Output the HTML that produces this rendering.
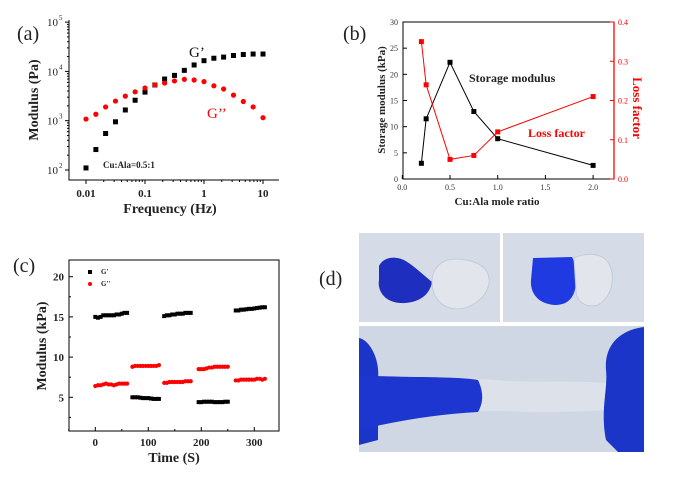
<!DOCTYPE html>
<html><head><meta charset="utf-8"><style>
body{margin:0;background:#fff}
svg{display:block;font-family:"Liberation Serif",serif}
.t{font-weight:bold;fill:#222}
</style></head><body>
<svg id="s" width="673" height="479" viewBox="0 0 673 479">
<g id="pa"></g>
<g id="pb"></g>
<g id="pc"></g>
<g id="pd">
  <rect x="359" y="233" width="141" height="89" fill="#d6dce7"/>
  <path d="M379,266 C383,258 392,257 397,258 C406,259 413,266 432,282 C430,295 418,304 400,303 C385,302 377,291 379,280 Z" fill="#1e2fc0"/>
  <path d="M432,282 C432,268 442,259 455,259 C470,259 491,264 489,283 C487,298 470,310 455,309 C440,307 432,296 432,282 Z" fill="#e2e6ec" stroke="#c5ccd6"/>
  <rect x="503" y="233" width="141" height="89" fill="#d6dce7"/>
  <path d="M533,258 L572,257 C575,262 575,270 576,280 C576,295 570,305 555,305 C538,304 530,293 531,280 Z" fill="#1e3ae0"/>
  <path d="M574,258 C585,253 600,252 608,262 C616,275 613,296 598,305 C587,308 576,303 576,290 Z" fill="#e2e6ec" stroke="#c5ccd6"/>
  <rect x="359" y="326" width="285" height="126" fill="#d0d7e4"/>
  <path d="M359,338 C370,340 380,360 378,378 L378,440 L359,445 Z" fill="#1a35c8"/>
  <path d="M378,378 C420,378 470,377 505,381 C540,382 580,381 610,383 L610,410 C570,412 540,413 505,411 C470,410 420,415 378,420 Z" fill="#dde2ea"/>
  <path d="M359,375 C400,378 455,376 478,380 C485,395 482,405 478,412 C440,414 400,420 359,430 Z" fill="#1e36d0"/>
  <path d="M644,327 C620,330 604,345 606,370 C608,390 600,410 606,440 L618,452 L644,452 Z" fill="#1a35c8"/>
</g>
<text x="319" y="285" font-size="20" fill="#222">(d)</text>
</svg>
<script>
// ---- Panel (a) data
const aFreq=[0.01,0.0147,0.0215,0.0316,0.0464,0.068,0.1,0.147,0.215,0.316,0.464,0.68,1,1.47,2.15,3.16,4.64,6.8,10];
const aGp=[110,260,550,950,1650,2600,3800,5300,7000,8300,10500,13500,16500,18500,19500,21000,22000,22500,22500];
const aGpp=[1080,1350,1900,2500,3150,3850,4600,5300,5800,6400,6900,6700,6200,5100,4400,3300,2450,1900,1150];
const aXTicks=["0.01","0.1","1","10"];
const aYExp=["2","3","4","5"];
// ---- Panel (b) data
const bRatio=[0.2,0.25,0.5,0.75,1.0,2.0];
const bStorage=[3,11.5,22.3,12.9,7.7,2.6];
const bLoss=[0.35,0.24,0.05,0.06,0.12,0.21];
const bXTicks=["0.0","0.5","1.0","1.5","2.0"];
const bYTicks=["0","5","10","15","20","25","30"];
const bRTicks=["0.0","0.1","0.2","0.3","0.4"];
// ---- Panel (c) data
const cTime=[0,5,10,15,20,25,30,35,40,45,50,55,60,
 70,75,80,85,90,95,100,105,110,115,120,
 130,135,140,145,150,155,160,165,170,175,180,
 195,200,205,210,215,220,225,230,235,240,245,250,
 265,270,275,280,285,290,295,300,305,310,315,320];
const cGp=[15.0,14.9,15.0,15.2,15.2,15.2,15.2,15.2,15.3,15.3,15.4,15.5,15.5,
 5.0,5.0,5.0,4.95,4.9,4.9,4.9,4.85,4.8,4.8,4.8,
 15.1,15.2,15.2,15.3,15.3,15.4,15.4,15.4,15.5,15.5,15.5,
 4.4,4.4,4.45,4.45,4.45,4.45,4.4,4.4,4.4,4.4,4.45,4.45,
 15.8,15.8,15.9,15.9,15.95,16.0,16.0,16.05,16.1,16.15,16.2,16.2];
const cGpp=[6.4,6.5,6.5,6.6,6.7,6.6,6.6,6.5,6.6,6.7,6.7,6.7,6.7,
 8.8,8.9,8.9,8.9,8.9,8.9,8.9,8.9,8.9,8.9,9.0,
 6.8,6.8,6.9,6.9,6.9,6.9,6.9,6.9,7.0,7.0,7.0,
 8.5,8.5,8.5,8.6,8.7,8.7,8.8,8.8,8.8,8.8,8.8,8.8,
 7.1,7.1,7.2,7.2,7.2,7.2,7.2,7.2,7.3,7.3,7.2,7.3];
const cXTicks=[0,100,200,300];
const cYTicks=[5,10,15,20];

const NS="http://www.w3.org/2000/svg";
function mk(p,tag,at,txt){const e=document.createElementNS(NS,tag);for(const k in at)e.setAttribute(k,at[k]);if(txt!==undefined)e.textContent=txt;p.appendChild(e);return e;}

// ===== Panel A
(function(){
const g=document.getElementById('pa');
const ax=f=>86+(Math.log10(f)+2)*59;
const ay=v=>170-(Math.log10(v)-2)*49.3;
let r=mk(g,'path',{d:'M69,20 L69,180 L279,180',fill:'none',stroke:'#000','stroke-width':1});

aXTicks.forEach(t=>{const x=ax(parseFloat(t));
 mk(g,'line',{x1:x,x2:x,y1:180,y2:184,stroke:'#000'});
 for(let k=2;k<10&&parseFloat(t)<10;k++){const xm=ax(parseFloat(t)*k);mk(g,'line',{x1:xm,x2:xm,y1:180,y2:182,stroke:'#000'});}
 const l=mk(g,'text',{x:x,y:197,'font-size':11,'text-anchor':'middle',class:'t'},t);
 });
aYExp.forEach(e=>{const y=ay(Math.pow(10,+e));
 mk(g,'line',{x1:65,x2:69,y1:y,y2:y,stroke:'#000'});
 if(+e<5)for(let k=2;k<10;k++){const ym=ay(Math.pow(10,+e)*k);mk(g,'line',{x1:67,x2:69,y1:ym,y2:ym,stroke:'#000'});}
 const l=mk(g,'text',{x:47,y:y+4,'font-size':11,fill:'#222'},'10');
 
 mk(g,'text',{x:59,y:y-2,'font-size':7,fill:'#222'},e);});
aFreq.forEach((f,i)=>{const s=mk(g,'rect',{x:ax(f)-2.5,y:ay(aGp[i])-2.5,width:5,height:5,fill:'#000'});
 
 const c=mk(g,'circle',{cx:ax(f),cy:ay(aGpp[i]),r:2.6,fill:'#f00'});
 });
let t;
t=mk(g,'text',{x:170,y:213,'font-size':14,'text-anchor':'middle',class:'t'},'Frequency (Hz)');
t=mk(g,'text',{x:0,y:0,'font-size':14,'text-anchor':'middle',class:'t',transform:'translate(38,100) rotate(-90)'},'Modulus (Pa)');
t=mk(g,'text',{x:17,y:40,'font-size':20,fill:'#222'},'(a)');
t=mk(g,'text',{x:189,y:57,'font-size':15,fill:'#111'},'G\u2019');
t=mk(g,'text',{x:207,y:118,'font-size':15,fill:'#f00'},'G\u2019\u2019');
t=mk(g,'text',{x:103,y:168,'font-size':9,class:'t'},'Cu:Ala=0.5:1');
})();

// ===== Panel B
(function(){
const g=document.getElementById('pb');
const bx=v=>402.3+v*95.4;
const by=v=>179-v*157/30;
const br=v=>179-v*157/0.4;
let r=mk(g,'rect',{x:403,y:22,width:211,height:157,fill:'none',stroke:'#000'});

mk(g,'line',{x1:614,x2:614,y1:22,y2:179,stroke:'#f00','stroke-width':1.3});
bXTicks.forEach(t=>{const x=bx(+t);mk(g,'line',{x1:x,x2:x,y1:179,y2:175,stroke:'#000'});
 const l=mk(g,'text',{x:x,y:190,'font-size':8,'text-anchor':'middle',fill:'#333'},t);});
bYTicks.forEach(t=>{const y=by(+t);mk(g,'line',{x1:403,x2:407,y1:y,y2:y,stroke:'#000'});
 const l=mk(g,'text',{x:398,y:y+3,'font-size':8,'text-anchor':'end',fill:'#333'},t);});
bRTicks.forEach(t=>{const y=br(+t);mk(g,'line',{x1:610,x2:614,y1:y,y2:y,stroke:'#f00'});
 const l=mk(g,'text',{x:618,y:y+3,'font-size':8,fill:'#f00'},t);});
const ps=bRatio.map((v,i)=>bx(v)+','+by(bStorage[i])).join(' ');
let p=mk(g,'polyline',{points:ps,fill:'none',stroke:'#000','stroke-width':1});
const pl=bRatio.map((v,i)=>bx(v)+','+br(bLoss[i])).join(' ');
p=mk(g,'polyline',{points:pl,fill:'none',stroke:'#f00','stroke-width':1});
bRatio.forEach((v,i)=>{let s=mk(g,'rect',{x:bx(v)-2.5,y:by(bStorage[i])-2.5,width:5,height:5,fill:'#000'});
 
 s=mk(g,'rect',{x:bx(v)-2.5,y:br(bLoss[i])-2.5,width:5,height:5,fill:'#f00'});
 });
let t;
t=mk(g,'text',{x:497,y:205,'font-size':11,'text-anchor':'middle',class:'t'},'Cu:Ala mole ratio');
t=mk(g,'text',{x:0,y:0,'font-size':11,'text-anchor':'middle',class:'t',transform:'translate(385,100) rotate(-90)'},'Storage modulus (kPa)');
t=mk(g,'text',{x:0,y:0,'font-size':13,'text-anchor':'middle','font-weight':'bold',fill:'#f00',transform:'translate(633,108) rotate(90)'},'Loss factor');
t=mk(g,'text',{x:343,y:40,'font-size':20,fill:'#222'},'(b)');
t=mk(g,'text',{x:469,y:82,'font-size':12,class:'t'},'Storage modulus');
t=mk(g,'text',{x:528,y:137,'font-size':12,'font-weight':'bold',fill:'#f00'},'Loss factor');
})();

// ===== Panel C
(function(){
const g=document.getElementById('pc');
const cx=v=>95.3+v*0.53;
const cy=v=>437.5-v*8.04;
let r=mk(g,'rect',{x:69,y:260,width:210,height:171,fill:'none',stroke:'#000'});

cXTicks.forEach(t=>{const x=cx(t);mk(g,'line',{x1:x,x2:x,y1:431,y2:427,stroke:'#000'});
 const xm=cx(t+50);if(xm<279)mk(g,'line',{x1:xm,x2:xm,y1:431,y2:429,stroke:'#000'});
 const l=mk(g,'text',{x:x,y:446,'font-size':11,'text-anchor':'middle',class:'t'},t);});
mk(g,'line',{x1:cx(-50),x2:cx(-50),y1:431,y2:429,stroke:'#000'});
cYTicks.forEach(t=>{const y=cy(t);mk(g,'line',{x1:69,x2:73,y1:y,y2:y,stroke:'#000'});
 const ym=cy(t-2.5);mk(g,'line',{x1:69,x2:71,y1:ym,y2:ym,stroke:'#000'});
 const l=mk(g,'text',{x:64,y:y+4,'font-size':11,'text-anchor':'end',class:'t'},t);});
cTime.forEach((tm,i)=>{let s=mk(g,'rect',{x:cx(tm)-2,y:cy(cGp[i])-2,width:4,height:4,fill:'#000'});
 
 s=mk(g,'circle',{cx:cx(tm),cy:cy(cGpp[i]),r:2.1,fill:'#f00'});
 });
let t;
mk(g,'rect',{x:88,y:270,width:4,height:4,fill:'#000'});
t=mk(g,'text',{x:101,y:274,'font-size':7,class:'t'},"G'");
mk(g,'circle',{cx:90,cy:284,r:2,fill:'#f00'});
t=mk(g,'text',{x:101,y:286,'font-size':7,class:'t'},"G''");
t=mk(g,'text',{x:174,y:462,'font-size':14,'text-anchor':'middle',class:'t'},'Time (S)');
t=mk(g,'text',{x:0,y:0,'font-size':14,'text-anchor':'middle',class:'t',transform:'translate(46,346) rotate(-90)'},'Modulus (kPa)');
t=mk(g,'text',{x:13,y:272,'font-size':20,fill:'#222'},'(c)');
})();
</script>
</body></html>
